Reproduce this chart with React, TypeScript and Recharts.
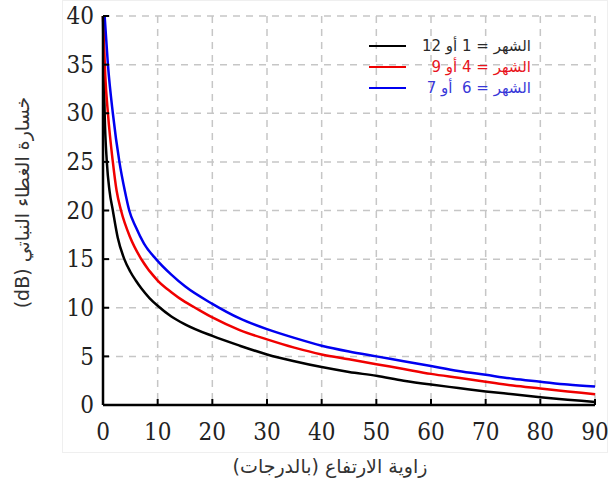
import { LineChart, Line, XAxis, YAxis, CartesianGrid, Legend } from "recharts";

// elevation angle (deg) / foliage loss (dB)
const blackAngles = [0, 0.15, 0.3, 0.7, 1.2, 1.8, 2.7, 3.9, 5, 6, 7, 8.5, 10, 12.5, 15, 20, 25, 30, 35, 40, 45, 50, 55, 60, 65, 70, 75, 80, 85, 90];
const blackLoss = [40, 34, 30, 25, 22, 20, 17.2, 15, 13.7, 12.8, 12.0, 11.0, 10.2, 9.1, 8.3, 7.1, 6.1, 5.2, 4.5, 3.9, 3.4, 3.0, 2.5, 2.1, 1.75, 1.4, 1.1, 0.8, 0.55, 0.3];

const redAngles = [0, 0.4, 0.9, 1.8, 2.5, 3.3, 5, 7, 10, 12.5, 15, 16.7, 20, 25, 30, 35, 40, 45, 50, 55, 60, 65, 70, 75, 80, 85, 90];
const redLoss = [40, 34, 30, 25, 22, 20, 17.2, 15, 12.8, 11.6, 10.6, 10.05, 9.0, 7.7, 6.75, 5.9, 5.2, 4.7, 4.2, 3.7, 3.2, 2.8, 2.4, 2.0, 1.7, 1.4, 1.1];

const blueAngles = [0.3, 0.9, 1.8, 3.0, 4, 4.8, 6, 7.5, 9.7, 12.5, 15, 20, 25, 30, 35, 40, 45, 50, 55, 60, 65, 70, 75, 80, 85, 90];
const blueLoss = [40, 35, 30, 25, 22, 20, 18.3, 16.6, 15, 13.4, 12.2, 10.4, 8.9, 7.8, 6.9, 6.1, 5.5, 5.0, 4.5, 4.0, 3.5, 3.1, 2.7, 2.4, 2.1, 1.9];

const xTicks = [0, 10, 20, 30, 40, 50, 60, 70, 80, 90];
const yTicks = [0, 5, 10, 15, 20, 25, 30, 35, 40];

const seriesNames = ["الشهر = 1 أو 12", "الشهر = 4 أو 9", "الشهر = 6  أو 7"];
const lineColors = ["#000000", "#f00000", "#0000f0"];
const textColors = ["#2a2a2a", "#e8141c", "#3838d8"];

const toPoints = (angles: number[], loss: number[]) => angles.map((a, i) => ({ a, v: loss[i] }));

const black = toPoints(blackAngles, blackLoss);
const red = toPoints(redAngles, redLoss);
const blue = toPoints(blueAngles, blueLoss);

const SERIF = "'DejaVu Serif Condensed', 'DejaVu Serif', serif";
const tickFont = { fontFamily: SERIF, fontSize: 24, fill: "#222" };
const titleFont = { fontFamily: "'DejaVu Sans', sans-serif", fontSize: 19, fill: "#333" };

const XTick = (p: any) => (
  <text x={p.x} y={p.y} dy="0.71em" textAnchor="middle" style={tickFont}>
    {p.payload.value}
  </text>
);

const YTick = (p: any) => (
  <text x={p.x} y={p.y} dy="0.34em" textAnchor="end" style={tickFont}>
    {p.payload.value}
  </text>
);

const XTitle = (props: any) => {
  const { x, y, width } = props.viewBox;
  return (
    <text x={x + width / 2 - 19} y={y + 61} textAnchor="middle" dominantBaseline="central" direction="rtl" style={titleFont}>
      زاوية الارتفاع (بالدرجات)
    </text>
  );
};

const YTitle = (props: any) => {
  const { y, height } = props.viewBox;
  const cx = 22;
  const cy = y + height / 2 - 8;
  return (
    <text x={cx} y={cy} textAnchor="middle" dominantBaseline="central" direction="rtl" transform={`rotate(-90 ${cx} ${cy})`} style={titleFont}>
      خسارة الغطاء النباتي (dB)
    </text>
  );
};

const renderLegend = (props: any) => (
  <div style={{ width: 162 }}>
    {(props.payload || []).map((entry: any, i: number) => (
      <div key={i} style={{ display: "flex", alignItems: "center", height: 21 }}>
        <div style={{ width: 37, height: 2, background: lineColors[i] }} />
        <span style={{ flex: 1, textAlign: "right", direction: "rtl", whiteSpace: "pre", color: textColors[i], fontFamily: "'DejaVu Sans', sans-serif", fontSize: 15 }}>
          {entry.value}
        </span>
      </div>
    ))}
  </div>
);

const noTick = () => <g />;

export default function App() {
  return (
    <div style={{ position: "absolute", left: 0, top: 0, width: 610, height: 484, background: "#fff" }}>
      <div style={{ position: "absolute", left: 62, top: 0, width: 544, height: 451, border: "1px solid #efefef" }} />
      <LineChart width={610} height={484} margin={{ top: 16, right: 15, left: 0, bottom: 0 }}>
        <CartesianGrid stroke="#c6c6c6" strokeWidth={1.5} strokeDasharray="7 6" />
        <XAxis
          dataKey="a"
          type="number"
          domain={[0, 90]}
          ticks={xTicks}
          interval={0}
          height={79}
          tick={XTick}
          tickSize={-6}
          tickMargin={24}
          axisLine={{ stroke: "#000", strokeWidth: 2.5 }}
          tickLine={{ stroke: "#000", strokeWidth: 2 }}
          label={{ content: XTitle }}
        />
        <XAxis
          xAxisId="top"
          orientation="top"
          type="number"
          domain={[0, 90]}
          ticks={xTicks}
          interval={0}
          height={0}
          tick={noTick}
          tickSize={-6}
          axisLine={{ stroke: "#000", strokeWidth: 2.5 }}
          tickLine={{ stroke: "#000", strokeWidth: 2 }}
        />
        <YAxis
          type="number"
          domain={[0, 40]}
          ticks={yTicks}
          interval={0}
          width={103}
          tick={YTick}
          tickSize={-6}
          tickMargin={15}
          axisLine={{ stroke: "#000", strokeWidth: 2.5 }}
          tickLine={{ stroke: "#000", strokeWidth: 2 }}
          label={{ content: YTitle }}
        />
        <YAxis
          yAxisId="right"
          orientation="right"
          type="number"
          domain={[0, 40]}
          ticks={yTicks}
          interval={0}
          width={0}
          tick={noTick}
          tickSize={-6}
          axisLine={{ stroke: "#000", strokeWidth: 2.5 }}
          tickLine={{ stroke: "#000", strokeWidth: 2 }}
        />
        <Legend
          content={renderLegend}
          layout="horizontal"
          verticalAlign="middle"
          align="center"
          wrapperStyle={{ left: 369, top: 35, width: 162 }}
        />
        <Line data={black} dataKey="v" name={seriesNames[0]} type="monotone" stroke={lineColors[0]} strokeWidth={2.5} dot={false} isAnimationActive={false} />
        <Line data={red} dataKey="v" name={seriesNames[1]} type="monotone" stroke={lineColors[1]} strokeWidth={2.5} dot={false} isAnimationActive={false} />
        <Line data={blue} dataKey="v" name={seriesNames[2]} type="monotone" stroke={lineColors[2]} strokeWidth={2.5} dot={false} isAnimationActive={false} />
      </LineChart>
    </div>
  );
}
